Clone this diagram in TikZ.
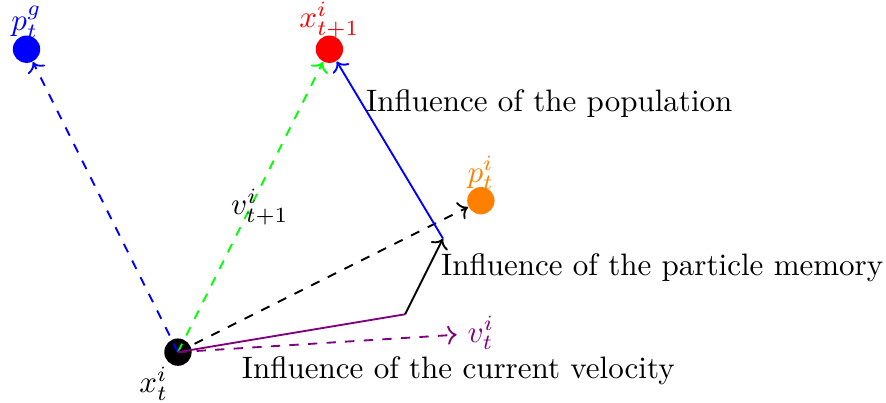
\documentclass[tikz,border=0pt]{standalone}
\usepackage{amsmath,amssymb}
\usepackage{xcolor}
\usepackage{tikz}
\usetikzlibrary{arrows,arrows.meta,positioning,calc}
\definecolor{psopurple}{RGB}{128,0,128}
\definecolor{psoorange}{RGB}{255,128,0}
\tikzset{
  dot/.style={circle, inner sep=0pt, minimum size=0.3cm},
  velarrow/.style={->, semithick},
  infltext/.style={anchor=west, font=\large}
}

\begin{document}
\begin{tikzpicture}[x=0.858cm, y=0.858cm,
      dot/.style={circle, inner sep=0pt, minimum size=0.31cm},
      velarrow/.style={->, semithick},
      infltext/.style={anchor=west}
    ]
    \useasboundingbox (-2.35,-0.67) rectangle (9.35,4.65);

    % particles
    \node[dot, fill=black]      (xt)  at (0,0)   {};
    \node[dot, fill=blue]       (pg)  at (-2,4)  {};
    \node[dot, fill=red]        (xn)  at (2,4)   {};
    \node[dot, fill=psoorange]  (pi)  at (4,2)   {};

    \node (xtlab) at (-0.32,-0.42) {$x_t^i$};
    \node[above, text=blue]      (pglab) at (pg.center) {$p_t^g$};
    \node[above, text=red]       (xnlab) at (xn.center) {$x_{t+1}^i$};
    \node[above, text=psoorange] (pilab) at (pi.center) {$p_t^i$};

    % velocity components
    \coordinate (vc) at (3,0.5);
    \coordinate (vm) at (3.5,1.5);
    \node[text=psopurple] (vt) at (4,0.25) {$v_t^i$};

    \draw[velarrow, dashed, psopurple] (xt.center) -- (vt);
    \draw[velarrow, dashed, blue]  (xt.center) -- (pg);
    \draw[velarrow, dashed, green] (xt.center) -- (xn)
      node[midway, text=black, xshift=3pt] (vnlab) {$v_{t+1}^i$};
    \draw[velarrow, dashed, black] (xt.center) -- (pi);

    \draw[semithick, psopurple] (xt.center) -- (vc);
    \draw[velarrow, black] (vc) -- (vm);
    \draw[velarrow, blue]  (vm) -- (xn);

    % influence labels
    \node[infltext] (popl) at (2.34,3.28)  {Influence of the population};
    \node[infltext] (meml) at (3.33,1.12)  {Influence of the particle memory};
    \node[infltext] (curl) at (0.70,-0.25) {Influence of the current velocity};
  \end{tikzpicture}
\end{document}
